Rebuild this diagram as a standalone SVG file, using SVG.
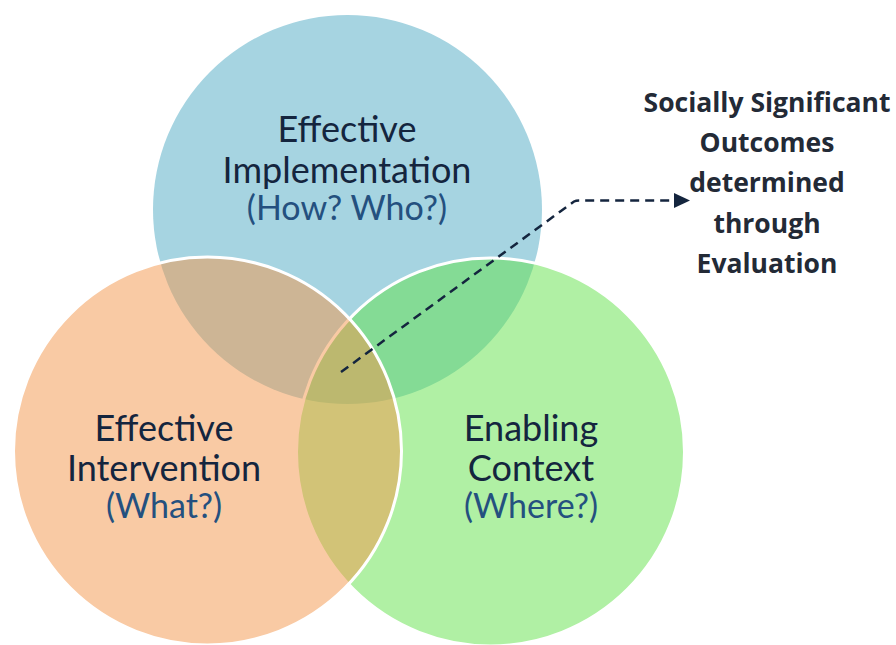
<svg xmlns="http://www.w3.org/2000/svg" width="896" height="645" viewBox="0 0 896 645">
  <style>
    .title { font-family: Lato, "Open Sans", sans-serif; font-size: 36px; fill: #14253E; text-anchor: middle; }
    .sub { font-family: Lato, "Open Sans", sans-serif; font-size: 34px; fill: #24507F; text-anchor: middle; }
    .note { font-family: "Open Sans", "DejaVu Sans", sans-serif; font-size: 26.5px; font-weight: bold; fill: #232A36; text-anchor: middle; }
    .ring { stroke: #FFFFFF; stroke-width: 3; }
    .link { fill: none; stroke: #14253E; stroke-width: 2.5; stroke-dasharray: 9 6; }
  </style>
  <defs>
    <marker id="arrow" markerUnits="userSpaceOnUse" markerWidth="18" markerHeight="16" refX="16" refY="7.5" orient="auto">
      <path d="M0,0 L16,7.5 L0,15 Z" fill="#14253E"/>
    </marker>
  </defs>
  <rect width="896" height="645" fill="#FFFFFF"/>

  <!-- Venn circles: blue at the back, green and orange translucent over it -->
  <g id="implementation">
    <circle cx="347.5" cy="209.5" r="194.5" fill="#A6D4E1"/>
  </g>
  <g id="context">
    <circle class="ring" cx="490.5" cy="452" r="194" fill="#61E149" fill-opacity="0.5"/>
  </g>
  <g id="intervention">
    <circle class="ring" cx="207.5" cy="451" r="194" fill="#F39549" fill-opacity="0.5"/>
  </g>

  <!-- Circle labels -->
  <g id="implementation-label">
    <text class="title" x="347" y="142">Effective</text>
    <text class="title" x="347" y="183">Implementation</text>
    <text class="sub" x="347" y="220">(How? Who?)</text>
  </g>
  <g id="intervention-label">
    <text class="title" x="164" y="441">Effective</text>
    <text class="title" x="164" y="481">Intervention</text>
    <text class="sub" x="164" y="518">(What?)</text>
  </g>
  <g id="context-label">
    <text class="title" x="531" y="441">Enabling</text>
    <text class="title" x="531" y="481">Context</text>
    <text class="sub" x="531" y="518">(Where?)</text>
  </g>

  <!-- Outcome callout -->
  <g id="outcomes">
    <text class="note" x="767" y="112">Socially Significant</text>
    <text class="note" x="767" y="152">Outcomes</text>
    <text class="note" x="767" y="192">determined</text>
    <text class="note" x="767" y="233">through</text>
    <text class="note" x="767" y="273">Evaluation</text>
  </g>

  <!-- Connector from the centre overlap to the callout -->
  <g id="connectors">
    <path class="link" d="M341,372 L574,201.5 Q576,200.5 579,200.5 L690,200.5" marker-end="url(#arrow)"/>
  </g>
</svg>
